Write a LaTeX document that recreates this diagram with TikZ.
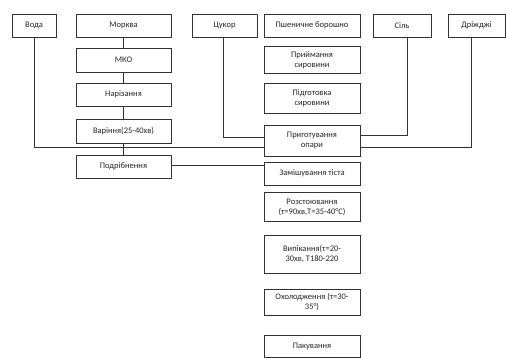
\documentclass[tikz,border=0pt]{standalone}
\usepackage{fontspec}
\setmainfont{Carlito}
\usetikzlibrary{calc}
\begin{document}
\begin{tikzpicture}[x=1pt, y=-1pt, line width=0.6pt,
  blk/.style={draw=black!80, fill=white, text=black!85, align=center,
    inner sep=1pt, font=\fontsize{8.5}{10}\selectfont},
  link/.style={draw=black!80}]
  \useasboundingbox (0,0) rectangle (506,358);

  % Top row: raw materials
  \node[blk, minimum width=44pt, minimum height=23pt] (voda) at (34,25.5) {Вода};
  \node[blk, minimum width=95pt, minimum height=23pt] (morkva) at (123.5,25.5) {Морква};
  \node[blk, minimum width=65pt, minimum height=23pt] (tsukor) at (224.5,25.5) {Цукор};
  \node[blk, minimum width=96pt, minimum height=23pt] (boroshno) at (312,25.5) {Пшеничне борошно};
  \node[blk, minimum width=58pt, minimum height=23pt] (sil) at (402,25.5) {Сіль};
  \node[blk, minimum width=57pt, minimum height=23pt] (drizhdzhi) at (476.5,25.5) {Дріжджі};

  % Carrot column
  \node[blk, minimum width=95pt, minimum height=24pt] (mko) at (123.5,60) {МКО};
  \node[blk, minimum width=95pt, minimum height=23pt] (narizannya) at (123.5,94.5) {Нарізання};
  \node[blk, minimum width=95pt, minimum height=24pt] (varinnya) at (123.5,131) {Варіння(25-40хв)};
  \node[blk, minimum width=95pt, minimum height=23pt] (podribn) at (123.5,166.5) {Подрібнення};

  % Main column
  \node[blk, minimum width=96pt, minimum height=27pt] (pryimannya) at (312,60) {Приймання\\сировини};
  \node[blk, minimum width=96pt, minimum height=30pt] (pidhotovka) at (312,98.5) {Підготовка\\сировини};
  \node[blk, minimum width=96pt, minimum height=31pt] (opara) at (312,140.5) {Приготування\\опари};
  \node[blk, minimum width=96pt, minimum height=23pt] (zamish) at (312,173.5) {Замішування тіста};
  \node[blk, minimum width=96pt, minimum height=29pt] (rozstoyu) at (312,207) {Розстоювання\\(τ=90хв,Т=35-40°С)};
  \node[blk, minimum width=96pt, minimum height=38pt] (vypikannya) at (312,254) {Випікання(τ=20-\\30хв, Т180-220};
  \node[blk, minimum width=96pt, minimum height=26pt] (okholodzh) at (312,302) {Охолодження (τ=30-\\35°)};
  \node[blk, minimum width=96pt, minimum height=22pt] (pakuv) at (312,346.5) {Пакування};

  % Carrot chain
  \draw[link] (morkva) -- (mko) -- (narizannya) -- (varinnya) -- (podribn);

  % Inputs to the sponge
  \coordinate (in1) at ($(opara.west)+(0,-3.5)$);
  \coordinate (in2) at ($(opara.west)+(0,6.5)$);
  \coordinate (in3) at ($(opara.east)+(0,-5.5)$);
  \coordinate (in4) at ($(opara.east)+(0,6.5)$);
  \draw[link] ([xshift=-1.5pt]tsukor.south) |- (in1);
  \draw[link] (voda.south) |- (in2);
  \draw[link] ([xshift=5pt]sil.south) |- (in3);
  \draw[link] ([xshift=-5.5pt]drizhdzhi.south) |- (in4);

  % Carrot purée to kneading
  \draw[link] ([yshift=1.5pt]podribn.east) -- ([yshift=1.5pt]podribn.east -| zamish.west);
\end{tikzpicture}
\end{document}
